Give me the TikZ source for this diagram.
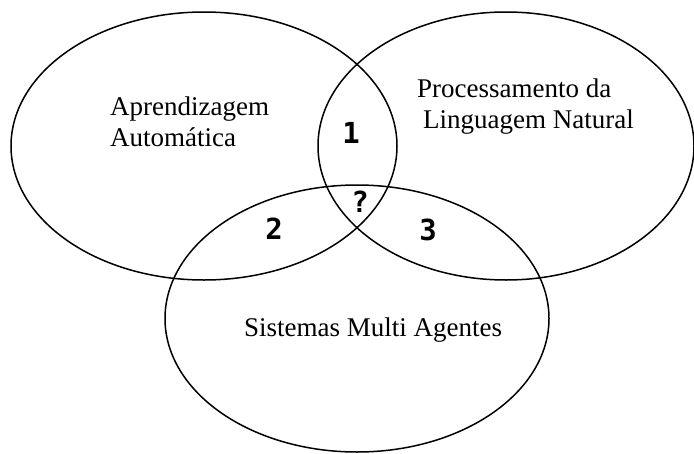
\documentclass[tikz,border=0pt]{standalone}
\usepackage{fontspec}
\setmainfont{Liberation Serif}
\newfontfamily\numfont{DejaVu Sans Mono}
\begin{document}
\begin{tikzpicture}[x=1pt,y=-1pt,
  set/.style={draw=black,line width=1.5pt},
  lbl/.style={font=\fontsize{27}{31}\selectfont,inner sep=0pt,anchor=base west},
  num/.style={font=\numfont\bfseries\fontsize{29}{29}\selectfont,inner sep=0pt}]
\useasboundingbox (0,0) rectangle (694,453);
\draw[set] (204,146) ellipse [x radius=193, y radius=134];
\draw[set] (506,146) ellipse [x radius=188, y radius=134];
\draw[set] (357,318.5) ellipse [x radius=192, y radius=133.5];
\node[lbl] (a1) at (110,115) {Aprendizagem};
\node[lbl] (a2) at (110,146) {Automática};
\node[lbl] (p1) at (417,97) {Processamento da};
\node[lbl] (p2) at (423,128) {Linguagem Natural};
\node[lbl] (s1) at (244,336) {Sistemas Multi Agentes};
\node[num] (n1) at (351,133) {1};
\node[num] (nq) at (360,202) {?};
\node[num] (n2) at (274,229) {2};
\node[num] (n3) at (428,230) {3};
\end{tikzpicture}
\end{document}
